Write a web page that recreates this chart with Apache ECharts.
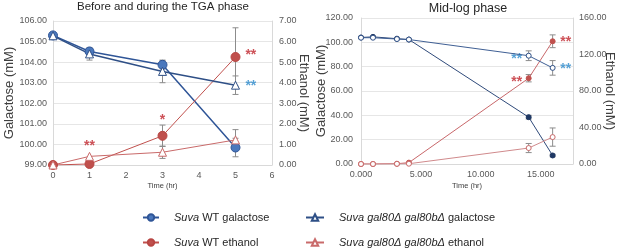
<!DOCTYPE html>
<html>
<head>
<meta charset="utf-8">
<script src="https://cdn.jsdelivr.net/npm/echarts@6/dist/echarts.min.js"></script>
<style>
  html, body { margin: 0; padding: 0; background: #fff; }
  #chart { width: 617px; height: 249px; }
</style>
</head>
<body>
<div id="chart"></div>
<script>
// left panel: before and during the TGA phase
const tgaTime = [0, 1, 3, 5];
const tgaWtGal = [105.3, 104.52, 103.87, 99.85];
const tgaWtGalErr = [0, 0.15, 0.2, 0.45];
const tgaMutGal = [105.28, 104.4, 103.55, 102.88];
const tgaMutGalErr = [0, 0.3, 0.55, 0.45];
const tgaWtEth = [0.0, 0.05, 1.42, 5.25];
const tgaWtEthErr = [0, 0, 0.52, 1.42];
const tgaMutEth = [0.0, 0.42, 0.62, 1.22];
const tgaMutEthErr = [0, 0, 0.3, 0.5];
// significance marks: [time, galactose-axis value, text]
const tgaStarsRed = [[1, 99.92, "**"], [3, 101.2, "*"], [5.42, 104.35, "**"]];
const tgaStarsBlue = [[5.42, 102.84, "**"]];

// right panel: mid-log phase
const logTime = [0, 1, 3, 4, 14, 16];
const logWtGal = [104, 104.5, 103, 102.3, 38.5, 7];
const logWtGalErr = [0, 0, 0, 0, 1.5, 1];
const logMutGal = [103.8, 103.8, 102.7, 102.3, 89, 79];
const logMutGalErr = [0, 0, 0, 0, 4, 6];
const logWtEth = [0, 0, 0.3, 1.5, 94, 134.5];
const logWtEthErr = [0, 0, 0, 0, 4, 7];
const logMutEth = [0, 0, 0.2, 0.3, 17.5, 29.5];
const logMutEthErr = [0, 0, 0, 0, 5, 10];
const logStarsRed = [[13.0, 67.6, "**"], [17.1, 100.5, "**"]];
const logStarsBlue = [[13.0, 86, "**"], [17.1, 78.3, "**"]];

const nameWtGal = "Suva WT galactose";
const nameWtEth = "Suva WT ethanol";
const nameMutGal = "Suva gal80Δ gal80bΔ galactose";
const nameMutEth = "Suva gal80Δ gal80bΔ ethanol";

const FONT = "Liberation Sans, Arial, sans-serif";
const RED = "#c0504d";
const STAR_RED = "#c0262d";
const STAR_BLUE = "#2e8bcc";

function pairs(xs, ys) { return xs.map((x, i) => [x, ys[i]]); }
function triples(xs, ys, es) { return xs.map((x, i) => [x, ys[i], es[i]]); }

function errBar(params, api) {
  const x = api.value(0), y = api.value(1), e = api.value(2);
  if (!e) return null;
  const t = api.coord([x, y + e]);
  const b = api.coord([x, y - e]);
  const w = 3;
  const st = { stroke: "#8c8c8c", lineWidth: 1 };
  return {
    type: "group",
    children: [
      { type: "line", shape: { x1: t[0], y1: t[1], x2: b[0], y2: b[1] }, style: st },
      { type: "line", shape: { x1: t[0] - w, y1: t[1], x2: t[0] + w, y2: t[1] }, style: st },
      { type: "line", shape: { x1: b[0] - w, y1: b[1], x2: b[0] + w, y2: b[1] }, style: st }
    ]
  };
}

function errSeries(g, yi, data) {
  return {
    type: "custom", xAxisIndex: g, yAxisIndex: yi, renderItem: errBar,
    data: data, z: 3, silent: true, encode: { x: 0, y: 1 }
  };
}

function starSeries(g, yi, data, color) {
  return {
    type: "scatter", xAxisIndex: g, yAxisIndex: yi, symbolSize: 0, silent: true,
    data: data.map(d => ({ value: [d[0], d[1]], name: d[2] })),
    label: {
      show: true, position: "inside", formatter: "{b}", color: color,
      fontSize: 14, fontWeight: "bold", fontFamily: FONT
    }
  };
}

function legendItem(name, left, top, italicPart, iconW) {
  const re = new RegExp("^(" + italicPart + ")");
  return {
    data: [name], left: left, top: top, padding: 0,
    itemWidth: iconW, itemHeight: 8,
    textStyle: {
      fontSize: 11, fontFamily: FONT, color: "#262626", padding: [0, 0, 0, 10],
      rich: { i: { fontStyle: "italic", fontSize: 11, fontFamily: FONT, color: "#262626" } }
    },
    formatter: n => n.replace(re, "{i|$1}")
  };
}

const chart = echarts.init(document.getElementById("chart"), null, { renderer: "canvas" });

const axisLabel = { color: "#595959", fontSize: 9, fontFamily: FONT };
const axisLine = { show: true, lineStyle: { color: "#d9d9d9" } };
const splitLine = { show: true, lineStyle: { color: "#e6e6e6" } };
const nameStyle = { color: "#404040", fontSize: 13, fontFamily: FONT };

const option = {
  animation: false,
  backgroundColor: "#fff",
  title: [
    { text: "Before and during the TGA phase", left: 163, top: 1, textAlign: "center", padding: 0,
      textStyle: { fontSize: 11.5, fontWeight: "normal", color: "#262626", fontFamily: FONT } },
    { text: "Mid-log phase", left: 468, top: 2, textAlign: "center", padding: 0,
      textStyle: { fontSize: 12.5, fontWeight: "normal", color: "#262626", fontFamily: FONT } }
  ],
  grid: [
    { left: 53, top: 21, width: 219, height: 144 },
    { left: 361, top: 18, width: 214, height: 146 }
  ],
  xAxis: [
    { type: "value", gridIndex: 0, min: 0, max: 6, interval: 1,
      axisLine: axisLine, axisTick: { show: false }, splitLine: { show: false },
      axisLabel: Object.assign({ margin: 6 }, axisLabel),
      name: "Time (hr)", nameLocation: "middle", nameGap: 17, nameMoveOverlap: false,
      nameTextStyle: { color: "#404040", fontSize: 7.5, fontFamily: FONT } },
    { type: "value", gridIndex: 1, min: 0, max: 17.7, interval: 5,
      axisLine: axisLine, axisTick: { show: false }, splitLine: { show: false },
      axisLabel: Object.assign({ margin: 6, showMaxLabel: false, formatter: v => v.toFixed(3) }, axisLabel),
      name: "Time (hr)", nameLocation: "middle", nameGap: 18, nameMoveOverlap: false,
      nameTextStyle: { color: "#404040", fontSize: 7.5, fontFamily: FONT } }
  ],
  yAxis: [
    { type: "value", gridIndex: 0, min: 99, max: 106, interval: 1, position: "left",
      axisLine: axisLine, axisTick: { show: false }, splitLine: splitLine,
      axisLabel: Object.assign({ margin: 6, formatter: v => v.toFixed(2) }, axisLabel),
      name: "Galactose (mM)", nameLocation: "middle", nameGap: 37, nameMoveOverlap: false,
      nameTextStyle: nameStyle },
    { type: "value", gridIndex: 0, min: 0, max: 7, interval: 1, position: "right",
      axisLine: axisLine, axisTick: { show: false }, splitLine: { show: false },
      axisLabel: Object.assign({ margin: 7, formatter: v => v.toFixed(2) }, axisLabel),
      name: "Ethanol (mM)", nameLocation: "middle", nameGap: 25, nameRotate: -90, nameMoveOverlap: false,
      nameTextStyle: nameStyle },
    { type: "value", gridIndex: 1, min: 0, max: 120, interval: 20, position: "left",
      axisLine: axisLine, axisTick: { show: false }, splitLine: splitLine,
      axisLabel: Object.assign({ margin: 8, formatter: v => v.toFixed(2) }, axisLabel),
      name: "Galactose (mM)", nameLocation: "middle", nameGap: 33, nameMoveOverlap: false,
      nameTextStyle: nameStyle },
    { type: "value", gridIndex: 1, min: 0, max: 160, interval: 40, position: "right",
      axisLine: axisLine, axisTick: { show: false }, splitLine: { show: false },
      axisLabel: Object.assign({ margin: 6, formatter: v => v.toFixed(2) }, axisLabel),
      name: "Ethanol (mM)", nameLocation: "middle", nameGap: 30, nameRotate: -90, nameMoveOverlap: false,
      nameTextStyle: nameStyle }
  ],
  legend: [
    legendItem(nameWtGal, 142, 212, "Suva", 16),
    legendItem(nameWtEth, 142, 237, "Suva", 16),
    legendItem(nameMutGal, 305, 212, "Suva gal80Δ gal80bΔ", 18),
    legendItem(nameMutEth, 305, 237, "Suva gal80Δ gal80bΔ", 18)
  ],
  series: [
    // left panel
    errSeries(0, 0, triples(tgaTime, tgaWtGal, tgaWtGalErr)),
    errSeries(0, 0, triples(tgaTime, tgaMutGal, tgaMutGalErr)),
    errSeries(0, 1, triples(tgaTime, tgaWtEth, tgaWtEthErr)),
    errSeries(0, 1, triples(tgaTime, tgaMutEth, tgaMutEthErr)),
    { name: nameWtGal, type: "line", xAxisIndex: 0, yAxisIndex: 0, data: pairs(tgaTime, tgaWtGal),
      symbol: "circle", symbolSize: 9, z: 4,
      lineStyle: { color: "#2f5597", width: 1.5 },
      itemStyle: { color: "#4a78bd", borderColor: "#2f5597", borderWidth: 1 } },
    { name: nameWtEth, type: "line", xAxisIndex: 0, yAxisIndex: 1, data: pairs(tgaTime, tgaWtEth),
      symbol: "circle", symbolSize: 9, z: 4,
      lineStyle: { color: RED, width: 1 },
      itemStyle: { color: RED, borderColor: "#b84643", borderWidth: 1 } },
    { name: nameMutGal, type: "line", xAxisIndex: 0, yAxisIndex: 0, data: pairs(tgaTime, tgaMutGal),
      symbol: "triangle", symbolSize: 8, z: 4,
      lineStyle: { color: "#2e4f86", width: 1.5 },
      itemStyle: { color: "#fff", borderColor: "#2e4f86", borderWidth: 1 } },
    { name: nameMutEth, type: "line", xAxisIndex: 0, yAxisIndex: 1, data: pairs(tgaTime, tgaMutEth),
      symbol: "triangle", symbolSize: 8, z: 4,
      lineStyle: { color: "#c96a6a", width: 1 },
      itemStyle: { color: "#fff", borderColor: "#c96a6a", borderWidth: 1 } },
    starSeries(0, 0, tgaStarsRed, STAR_RED),
    starSeries(0, 0, tgaStarsBlue, STAR_BLUE),

    // right panel
    errSeries(1, 2, triples(logTime, logWtGal, logWtGalErr)),
    errSeries(1, 2, triples(logTime, logMutGal, logMutGalErr)),
    errSeries(1, 3, triples(logTime, logWtEth, logWtEthErr)),
    errSeries(1, 3, triples(logTime, logMutEth, logMutEthErr)),
    { name: nameWtGal, type: "line", xAxisIndex: 1, yAxisIndex: 2, data: pairs(logTime, logWtGal),
      symbol: "circle", symbolSize: 5, z: 4,
      lineStyle: { color: "#2f4a7a", width: 1 },
      itemStyle: { color: "#1f3864", borderColor: "#1f3864", borderWidth: 1 } },
    { name: nameWtEth, type: "line", xAxisIndex: 1, yAxisIndex: 3, data: pairs(logTime, logWtEth),
      symbol: "circle", symbolSize: 5, z: 4,
      lineStyle: { color: "#c8676a", width: 1 },
      itemStyle: { color: RED, borderColor: RED, borderWidth: 1 } },
    { name: nameMutGal, type: "line", xAxisIndex: 1, yAxisIndex: 2, data: pairs(logTime, logMutGal),
      symbol: "circle", symbolSize: 5, z: 4,
      lineStyle: { color: "#3f5f94", width: 1 },
      itemStyle: { color: "#fff", borderColor: "#2e4f86", borderWidth: 1 } },
    { name: nameMutEth, type: "line", xAxisIndex: 1, yAxisIndex: 3, data: pairs(logTime, logMutEth),
      symbol: "circle", symbolSize: 5, z: 4,
      lineStyle: { color: "#d08a8c", width: 1 },
      itemStyle: { color: "#fff", borderColor: "#c96a6a", borderWidth: 1 } },
    starSeries(1, 2, logStarsRed, STAR_RED),
    starSeries(1, 2, logStarsBlue, STAR_BLUE)
  ]
};

chart.setOption(option);
window.addEventListener("resize", () => chart.resize());
</script>
</body>
</html>
